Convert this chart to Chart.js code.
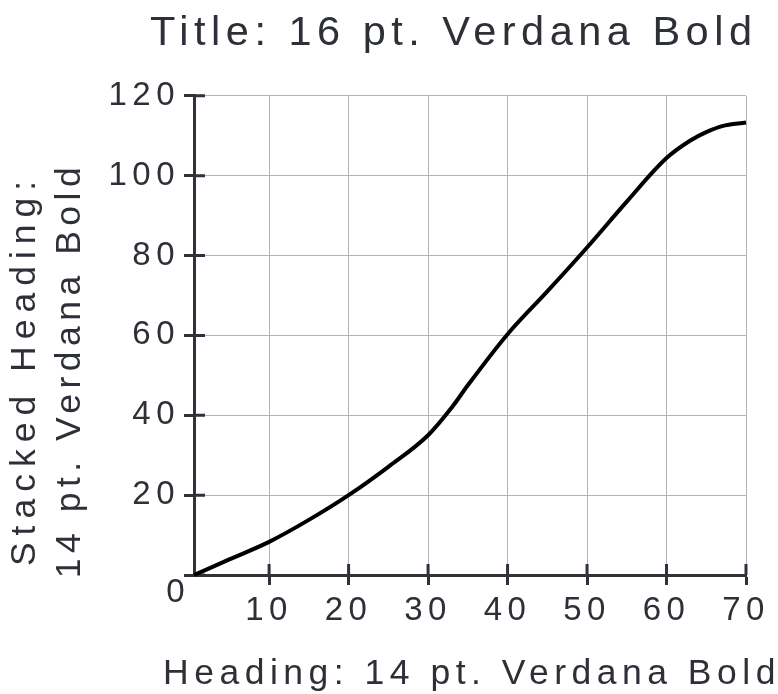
<!DOCTYPE html>
<html>
<head>
<meta charset="utf-8">
<script src="https://cdn.jsdelivr.net/npm/chart.js@4/dist/chart.umd.min.js"></script>
<style>
  html, body { margin: 0; padding: 0; background: #fff; }
  #wrap { width: 778px; height: 694px; }
</style>
</head>
<body>
<div id="wrap"><canvas id="chart" width="778" height="694"></canvas></div>
<script>
// --- data ---
const xValues = [0.55, 5, 10, 15, 20, 25, 30, 33, 35, 40, 45, 50, 55, 60, 63, 65, 67, 70];
const yValues = [0, 3.9, 8.3, 13.8, 20, 27.1, 35, 42, 47.5, 60.3, 71, 82, 93.5, 104.4, 108.8, 110.9, 112.4, 113.3];
const xTicks = [10, 20, 30, 40, 50, 60, 70];
const yTicks = [0, 20, 40, 60, 80, 100, 120];

const chartTitle = 'Title: 16 pt. Verdana Bold';
const xTitle = 'Heading: 14 pt. Verdana Bold';
const yTitleLines = ['Stacked Heading:', '14 pt. Verdana Bold'];

const TEXT = '#2e3038';
const AXIS = '#30323a';
const GRID = '#b4b4b8';
const FAMILY = '"Liberation Sans", Arial, sans-serif';
const SPACING = '5.5px';

// letter spacing has to be re-applied, canvas resizes wipe context state
function applySpacing(chart) { chart.ctx.letterSpacing = SPACING; }

const extrasPlugin = {
    id: 'extras',
    beforeUpdate: applySpacing,
    beforeLayout: applySpacing,
    beforeDraw: applySpacing,
    afterLayout(chart) {
        // the title runs a bit past the plot's right edge
        const t = chart.titleBlock;
        t.left += 11.5;
        t.right += 11.5;
    },
    beforeDatasetsDraw(chart) {
        // tick marks cross the axis lines
        const { ctx, chartArea: a } = chart;
        const xs = chart.scales.x, ys = chart.scales.y;
        ctx.save();
        ctx.strokeStyle = AXIS;
        ctx.lineWidth = 3;
        ctx.beginPath();
        xTicks.forEach(v => {
            const px = xs.getPixelForValue(v);
            ctx.moveTo(px, a.bottom); ctx.lineTo(px, a.bottom - 11);
        });
        yTicks.forEach(v => {
            const py = ys.getPixelForValue(v);
            ctx.moveTo(a.left, py); ctx.lineTo(a.left + 11, py);
        });
        ctx.stroke();
        ctx.restore();
    },
    afterDraw(chart) {
        const { ctx, chartArea: a } = chart;
        const ys = chart.scales.y;
        ctx.save();
        ctx.letterSpacing = SPACING;
        ctx.fillStyle = TEXT;

        // the zero label sits lower than the others
        ctx.font = '33px ' + FAMILY;
        ctx.textAlign = 'right';
        ctx.textBaseline = 'middle';
        ctx.fillText('0', a.left - 4, ys.getPixelForValue(0) + 18);

        // x heading is wider than the plot, so no squeezing to fit
        ctx.font = '35.5px ' + FAMILY;
        ctx.textAlign = 'center';
        ctx.textBaseline = 'alphabetic';
        ctx.fillText(xTitle, (a.left + a.right) / 2 + 2, a.bottom + 109);

        // stacked y axis heading
        ctx.textBaseline = 'middle';
        ctx.translate(a.left - 169, a.bottom - 205);
        ctx.rotate(-Math.PI / 2);
        yTitleLines.forEach((line, i) => {
            ctx.letterSpacing = i === 0 ? '7px' : SPACING;
            ctx.fillText(line, 0, i * 45);
        });
        ctx.restore();
    }
};

const ctx = document.getElementById('chart').getContext('2d');

new Chart(ctx, {
    type: 'scatter',
    data: {
        datasets: [{
            data: xValues.map((x, i) => ({ x: x, y: yValues[i] })),
            showLine: true,
            borderColor: '#000',
            borderWidth: 4,
            pointRadius: 0,
            cubicInterpolationMode: 'monotone',
            clip: false
        }]
    },
    options: {
        responsive: false,
        animation: false,
        devicePixelRatio: 1,
        layout: { padding: { left: 0, right: 32, top: 0, bottom: 0 } },
        plugins: {
            legend: { display: false },
            tooltip: { enabled: false },
            title: {
                display: true,
                text: chartTitle,
                align: 'end',
                color: TEXT,
                font: { family: FAMILY, size: 41.5, weight: 'normal' },
                padding: { top: 9, bottom: 37 }
            }
        },
        scales: {
            x: {
                type: 'linear',
                min: xValues[0],
                max: 70,
                afterBuildTicks: s => { s.ticks = xTicks.map(v => ({ value: v })); },
                afterFit: s => { s.height = 119; },
                border: { display: true, color: AXIS, width: 3 },
                grid: { color: GRID, lineWidth: 1, tickColor: AXIS, tickWidth: 3, tickLength: 10 },
                ticks: {
                    color: TEXT,
                    padding: 6,
                    maxRotation: 0,
                    font: { family: FAMILY, size: 33 }
                }
            },
            y: {
                type: 'linear',
                min: 0,
                max: 120,
                afterBuildTicks: s => { s.ticks = yTicks.map(v => ({ value: v })); },
                afterFit: s => { s.width = 194; },
                border: { display: true, color: AXIS, width: 3 },
                grid: { color: GRID, lineWidth: 1, tickColor: AXIS, tickWidth: 3, tickLength: 10 },
                ticks: {
                    color: TEXT,
                    padding: 4,
                    font: { family: FAMILY, size: 33 },
                    callback: v => (v === 0 ? '' : String(v))
                }
            }
        }
    },
    plugins: [extrasPlugin]
});
</script>
</body>
</html>
